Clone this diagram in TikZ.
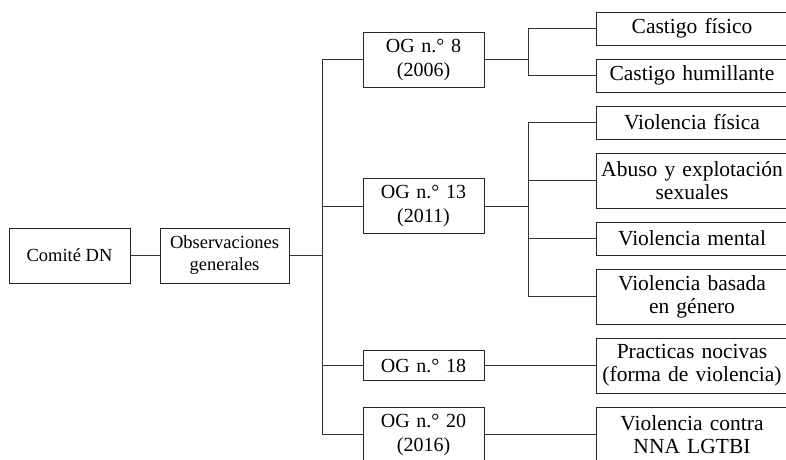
\documentclass[tikz,border=0pt]{standalone}
\usepackage{fontspec}
\setmainfont{Liberation Serif}
\usetikzlibrary{positioning}

\tikzset{
  caja/.style={draw=black!85, line width=1pt, align=center, inner sep=2pt, minimum height=33pt},
  dos/.style={minimum height=55pt},
  izq/.style={caja, dos, font=\fontsize{18.5}{22}\selectfont},
  og/.style={caja, minimum width=121pt, text width=115pt, font=\fontsize{20}{24}\selectfont},
  tema/.style={caja, minimum width=192pt, text width=188pt, font=\fontsize{21.5}{23}\selectfont},
  rama/.style={draw=black!80, line width=0.9pt}
}

\begin{document}
\begin{tikzpicture}[x=1pt,y=-1pt,node distance=13pt]
  \useasboundingbox (0,0) rectangle (786,459);
  \clip (0,0) rectangle (786,459);
  \node[izq, minimum width=121pt] (comite) at (69.5,255.5) {Comité DN};
  \node[izq, minimum width=129pt, text width=125pt] (observ) [right=29pt of comite] {Observaciones\\generales};
  \node[tema] (fisico) at (692,28.5) {Castigo físico};
  \node[tema] (humill) [below=of fisico] {Castigo humillante};
  \node[tema] (violfis) [below=of humill] {Violencia física};
  \node[tema, dos] (abuso) [below=of violfis] {Abuso y explotación\\sexuales};
  \node[tema] (mental) [below=of abuso] {Violencia mental};
  \node[tema, dos] (genero) [below=of mental] {Violencia basada\\en género};
  \node[tema, dos] (nocivas) [below=of genero] {Practicas nocivas\\(forma de violencia)};
  \node[tema, dos] (lgtbi) [below=of nocivas] {Violencia contra\\NNA LGTBI};
  \node[og, dos] (og8) at (423.5,59.5) {OG n.° 8\\(2006)};
  \node[og, dos] (og13) at (423.5,206) {OG n.° 13\\(2011)};
  \node[og, minimum height=30pt] (og18) at (nocivas -| og13) {OG n.° 18};
  \node[og, dos] (og20) at (lgtbi -| og13) {OG n.° 20\\(2016)};
  % tronco principal
  \draw[rama] (comite) -- (observ);
  \draw[rama] (observ.east) -- ++(33,0) coordinate (t0);
  \draw[rama] (og8.west) -| (t0) |- (og20.west);
  \draw[rama] (t0 |- og13) -- (og13.west);
  \draw[rama] (t0 |- og18) -- (og18.west);
  % ramas de cada OG
  \draw[rama] (og8.east) -- ++(44,0) coordinate (b8);
  \draw[rama] (fisico.west) -| (b8) |- (humill.west);
  \draw[rama] (og13.east) -- ++(44,0) coordinate (b13);
  \draw[rama] (violfis.west) -| (b13) |- (genero.west);
  \draw[rama] (b13 |- abuso) -- (abuso.west);
  \draw[rama] (b13 |- mental) -- (mental.west);
  \draw[rama] (og18) -- (nocivas);
  \draw[rama] (og20) -- (lgtbi);
\end{tikzpicture}
\end{document}
